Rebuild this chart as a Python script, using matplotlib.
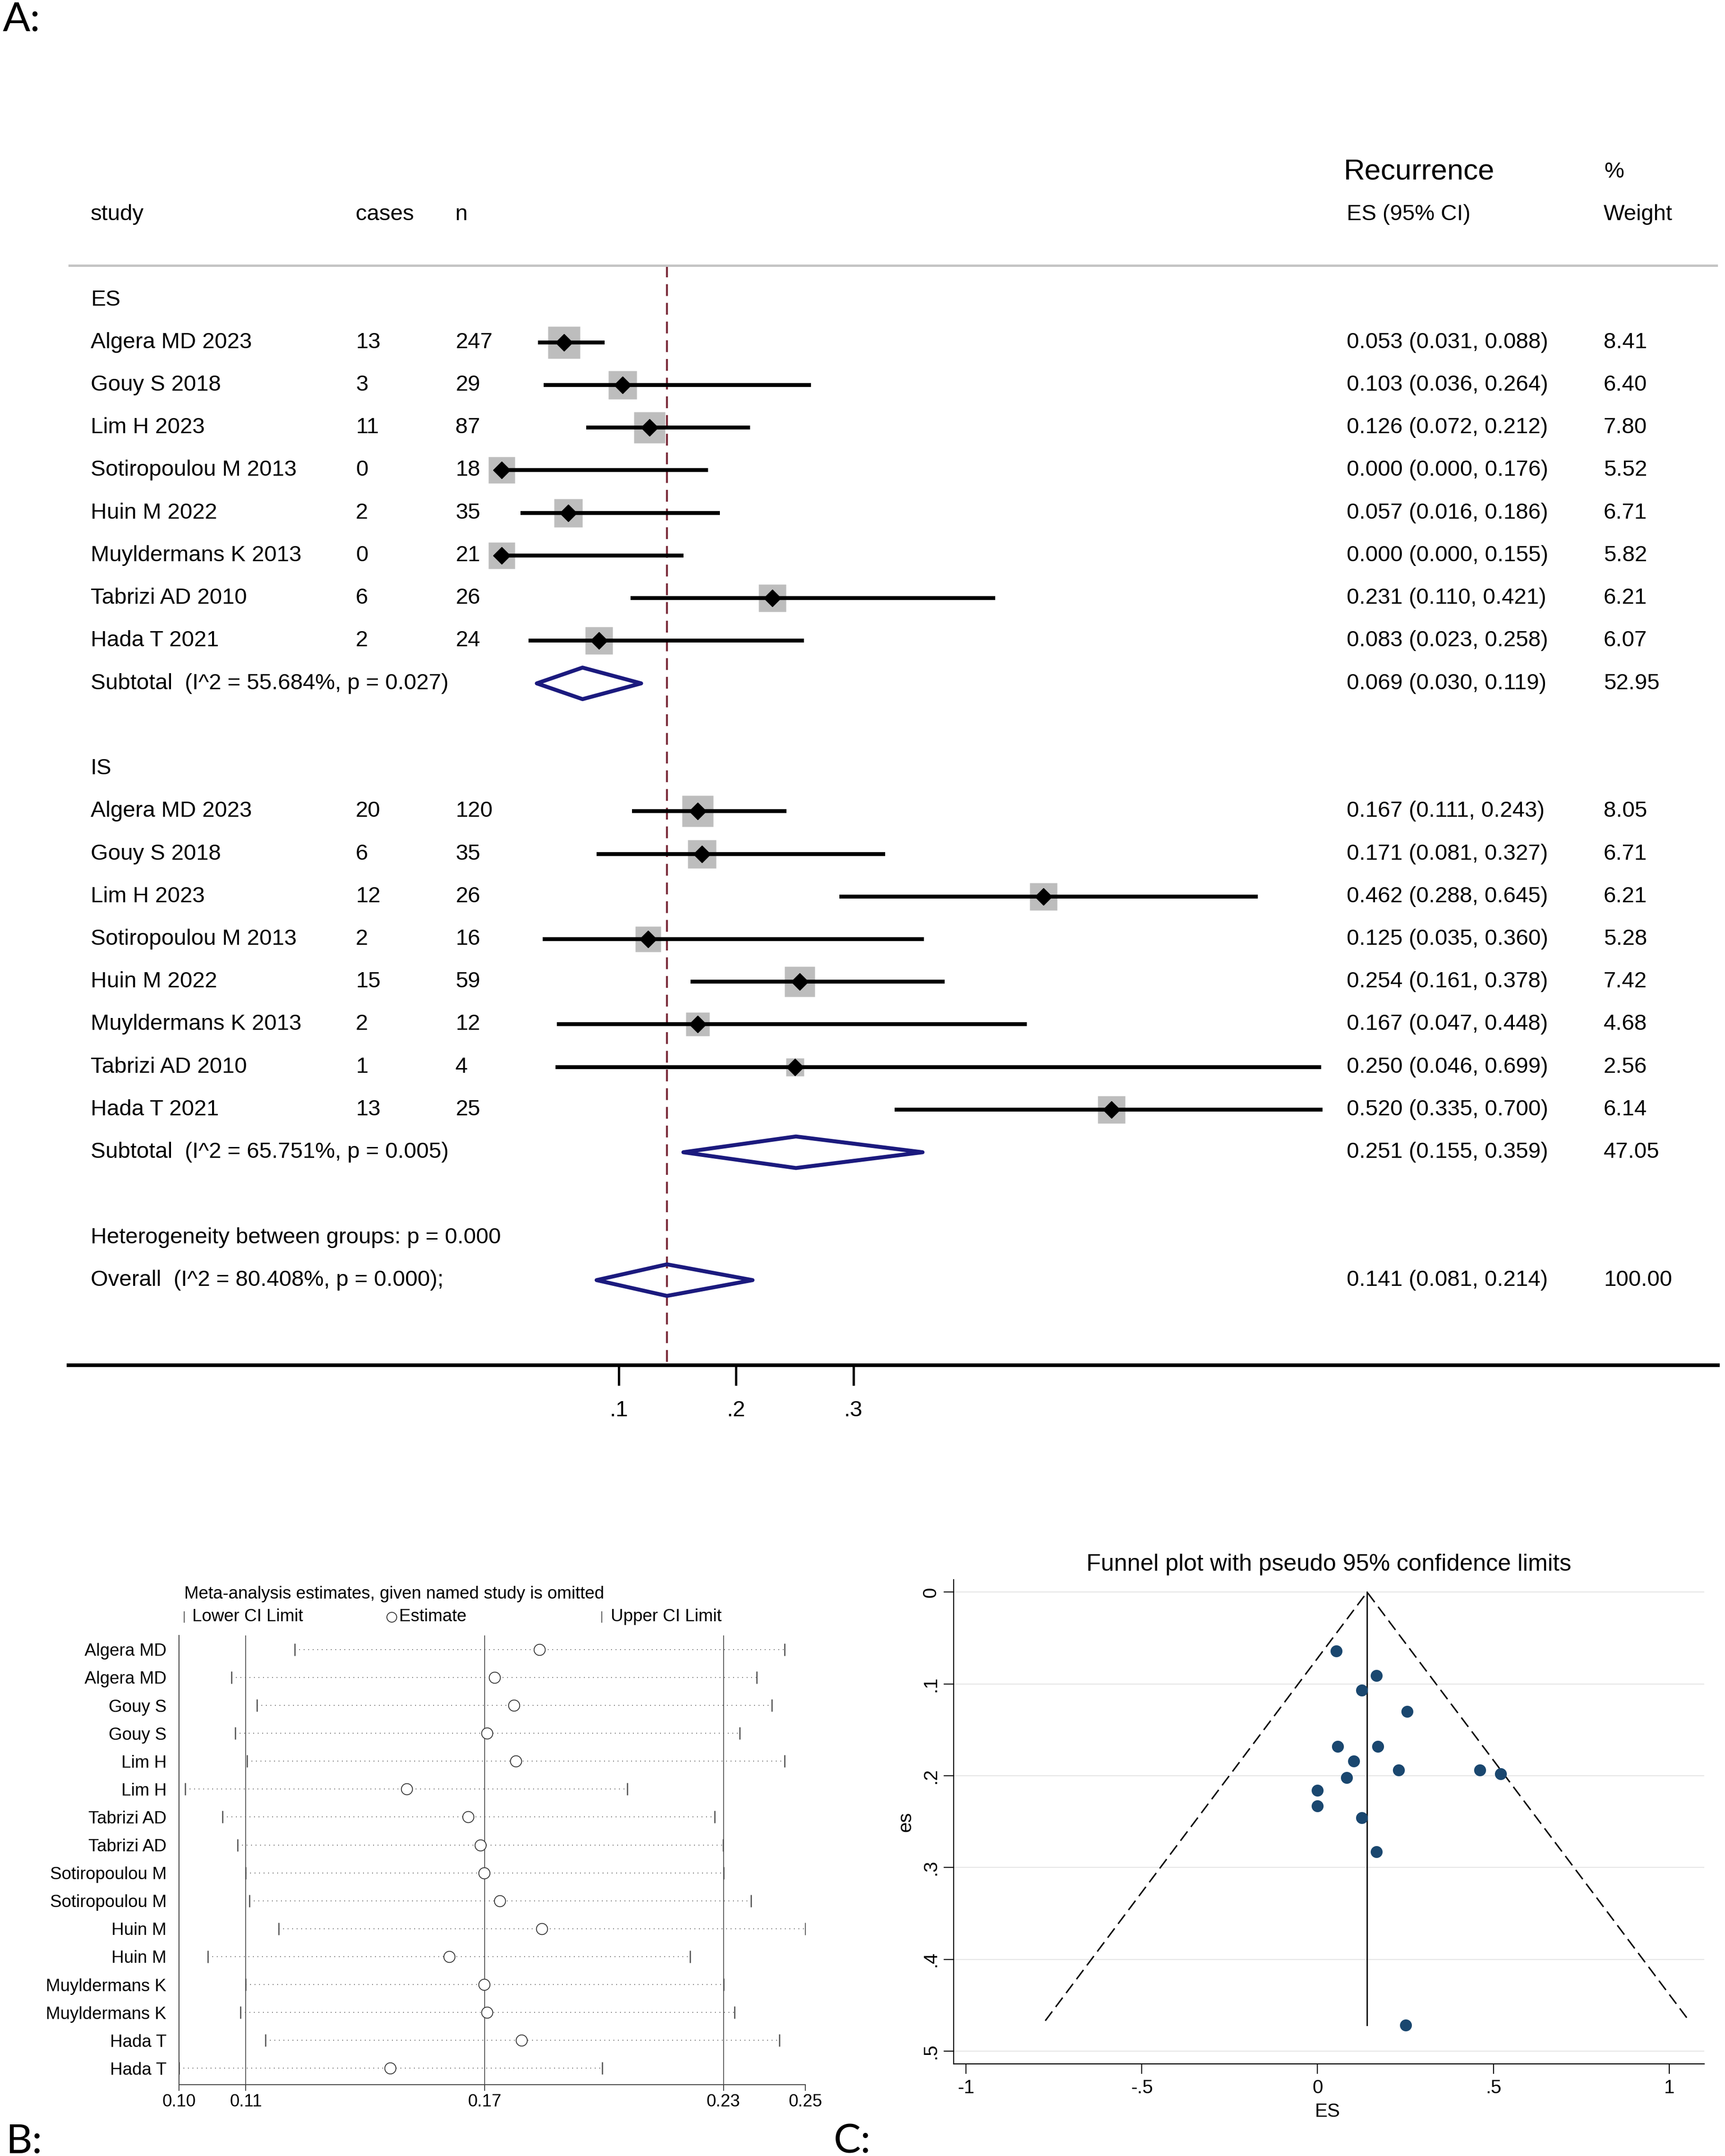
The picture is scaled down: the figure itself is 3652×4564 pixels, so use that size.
import matplotlib
matplotlib.use("Agg")
import matplotlib.pyplot as plt
import matplotlib.transforms as mtransforms
from matplotlib.lines import Line2D
from matplotlib.patches import Polygon
import numpy as np

# ---------------- A: forest plot ----------------
studies = ["Algera MD 2023", "Gouy S 2018", "Lim H 2023", "Sotiropoulou M 2013",
           "Huin M 2022", "Muyldermans K 2013", "Tabrizi AD 2010", "Hada T 2021"]
groups = ["ES", "IS"]

es_cases = [13, 3, 11, 0, 2, 0, 6, 2]
es_n = [247, 29, 87, 18, 35, 21, 26, 24]
es_est = [0.053, 0.103, 0.126, 0.000, 0.057, 0.000, 0.231, 0.083]
es_lo = [0.031, 0.036, 0.072, 0.000, 0.016, 0.000, 0.110, 0.023]
es_hi = [0.088, 0.264, 0.212, 0.176, 0.186, 0.155, 0.421, 0.258]
es_wt = [8.41, 6.40, 7.80, 5.52, 6.71, 5.82, 6.21, 6.07]

is_cases = [20, 6, 12, 2, 15, 2, 1, 13]
is_n = [120, 35, 26, 16, 59, 12, 4, 25]
is_est = [0.167, 0.171, 0.462, 0.125, 0.254, 0.167, 0.250, 0.520]
is_lo = [0.111, 0.081, 0.288, 0.035, 0.161, 0.047, 0.046, 0.335]
is_hi = [0.243, 0.327, 0.645, 0.360, 0.378, 0.448, 0.699, 0.700]
is_wt = [8.05, 6.71, 6.21, 5.28, 7.42, 4.68, 2.56, 6.14]

sub_est = [0.069, 0.251]
sub_lo = [0.030, 0.155]
sub_hi = [0.119, 0.359]
sub_wt = [52.95, 47.05]
sub_i2 = [55.684, 65.751]
sub_p = [0.027, 0.005]

overall_est, overall_lo, overall_hi = 0.141, 0.081, 0.214
overall_i2, overall_p, het_p = 80.408, 0.000, 0.000

forest_ticks = [0.1, 0.2, 0.3]
forest_ticklabels = [".1", ".2", ".3"]

# ---------------- B: leave-one-out ----------------
infl_labels = ["Algera MD", "Algera MD", "Gouy S", "Gouy S", "Lim H", "Lim H",
               "Tabrizi AD", "Tabrizi AD", "Sotiropoulou M", "Sotiropoulou M",
               "Huin M", "Huin M", "Muyldermans K", "Muyldermans K", "Hada T", "Hada T"]
infl_lo = [0.1223, 0.1064, 0.1128, 0.1073, 0.1103, 0.0948, 0.1041, 0.1079,
           0.1100, 0.1109, 0.1182, 0.1004, 0.1100, 0.1086, 0.1149, 0.0932]
infl_est = [0.1838, 0.1725, 0.1774, 0.1706, 0.1778, 0.1504, 0.1659, 0.1689,
            0.1699, 0.1738, 0.1843, 0.1611, 0.1699, 0.1706, 0.1793, 0.1463]
infl_hi = [0.2454, 0.2384, 0.2422, 0.2341, 0.2453, 0.2058, 0.2278, 0.2299,
           0.2300, 0.2369, 0.2506, 0.2216, 0.2300, 0.2328, 0.2440, 0.1996]
infl_ref = [0.11, 0.17, 0.23]
infl_ticks = [0.0932, 0.11, 0.17, 0.23, 0.2506]
infl_ticklabels = ["0.10", "0.11", "0.17", "0.23", "0.25"]

# ---------------- C: funnel plot ----------------
funnel_es = [0.053, 0.167, 0.126, 0.254, 0.057, 0.171, 0.103, 0.231,
             0.462, 0.520, 0.083, 0.000, 0.000, 0.125, 0.167, 0.250]
funnel_se = [0.064, 0.091, 0.107, 0.130, 0.168, 0.168, 0.184, 0.194,
             0.194, 0.198, 0.202, 0.216, 0.233, 0.246, 0.283, 0.472]
funnel_center = 0.141
funnel_limit_se = 0.467
funnel_xticks = [-1, -0.5, 0, 0.5, 1]
funnel_xticklabels = ["-1", "-.5", "0", ".5", "1"]
funnel_yticks = [0, 0.1, 0.2, 0.3, 0.4, 0.5]
funnel_yticklabels = ["0", ".1", ".2", ".3", ".4", ".5"]

plt.rcParams["font.family"] = ["Liberation Sans", "DejaVu Sans"]

W, H, DPI = 3652, 4564, 100
fig = plt.figure(figsize=(W / DPI, H / DPI), dpi=DPI)


def fx(px):
    return px / 1255.0


def fy(py):
    return 1.0 - py / 1568.0


def rect(x0, y0, x1, y1):
    return [fx(x0), fy(y1), fx(x1) - fx(x0), fy(y0) - fy(y1)]


NAVY = "#1b1a7e"
GRAY_BOX = "#bdbdbd"
REF_RED = "#7b2d3b"

# ---- panel A ----
ROW0, ROWH = 218.0, 31.0
ax = fig.add_axes(rect(50, ROW0 - 4 * ROWH, 1250, ROW0 + 25 * ROWH))
ax.set_xlim(-0.3692, 1.0375)
ax.set_ylim(25, -4)
for s in ("top", "left", "right"):
    ax.spines[s].set_visible(False)
ax.spines["bottom"].set_linewidth(5.5)
ax.set_yticks([])
ax.set_xticks(forest_ticks)
ax.set_xticklabels(forest_ticklabels, fontsize=34)
ax.tick_params(axis="x", length=31, width=3.5, pad=22)

tr = mtransforms.blended_transform_factory(ax.transAxes, ax.transData)
FS = 34
C_STUDY, C_CASES, C_N, C_CI, C_WT = 0.0133, 0.174, 0.2345, 0.7747, 0.9306


def put(x, y, s, size=FS):
    ax.text(x, y, s, transform=tr, fontsize=size, va="center", ha="left")


put(0.7729, -3, "Recurrence", 44.5)
put(0.931, -3, "%")
put(C_STUDY, -2, "study")
put(C_CASES, -2, "cases")
put(C_N, -2, "n")
put(C_CI, -2, "ES (95% CI)")
put(C_WT, -2, "Weight")

ax.axhline(-0.8, color="#c4c4c4", lw=3.6)
ax.plot([overall_est, overall_est], [-0.8, 25], color=REF_RED, lw=3,
        ls=(0, (6, 3.5)), zorder=1)


def diamond(est, lo, hi, row, h=0.37):
    ax.add_patch(Polygon([(lo, row), (est, row - h), (hi, row), (est, row + h)],
                         closed=True, fill=False, edgecolor=NAVY, lw=6,
                         joinstyle="round", zorder=4))


def ci_text(e, l, h):
    return f"{e:.3f} ({l:.3f}, {h:.3f})"


group_data = [
    (es_cases, es_n, es_est, es_lo, es_hi, es_wt),
    (is_cases, is_n, is_est, is_lo, is_hi, is_wt),
]
for g, (name, data) in enumerate(zip(groups, group_data)):
    cases, n, est, lo, hi, wt = data
    head = g * 11
    put(C_STUDY, head, name)
    for i in range(len(studies)):
        r = head + 1 + i
        put(C_STUDY, r, studies[i])
        put(C_CASES, r, str(cases[i]))
        put(C_N, r, str(n[i]))
        put(C_CI, r, ci_text(est[i], lo[i], hi[i]))
        put(C_WT, r, f"{wt[i]:.2f}")
        ax.plot(est[i], r, marker="s", ms=16.9 * np.sqrt(wt[i]), color=GRAY_BOX,
                mec="none", ls="none", zorder=2)
        ax.plot([lo[i], hi[i]], [r, r], color="black", lw=6,
                solid_capstyle="butt", zorder=3)
        ax.plot(est[i], r, marker="D", ms=18, color="black", ls="none", zorder=5)
    rs = head + 1 + len(studies)
    put(C_STUDY, rs, f"Subtotal  (I^2 = {sub_i2[g]:.3f}%, p = {sub_p[g]:.3f})")
    put(C_CI, rs, ci_text(sub_est[g], sub_lo[g], sub_hi[g]))
    put(C_WT, rs, f"{sub_wt[g]:.2f}")
    diamond(sub_est[g], sub_lo[g], sub_hi[g], rs)

put(C_STUDY, 22, f"Heterogeneity between groups: p = {het_p:.3f}")
put(C_STUDY, 23, f"Overall  (I^2 = {overall_i2:.3f}%, p = {overall_p:.3f});")
put(C_CI, 23, ci_text(overall_est, overall_lo, overall_hi))
put(C_WT, 23, "100.00")
diamond(overall_est, overall_lo, overall_hi, 23)

# ---- panel B ----
FSB = 26.5
axb = fig.add_axes(rect(130.2, 1189.5, 586, 1516))
rows = np.arange(1, len(infl_labels) + 1)
axb.set_xlim(infl_ticks[0], infl_ticks[-1])
axb.set_ylim(16.58, 0.5)
for v in infl_ref:
    axb.axvline(v, color="#555555", lw=1.3, zorder=1)
for lo, est, hi, r in zip(infl_lo, infl_est, infl_hi, rows):
    axb.plot([lo, hi], [r, r], color="#444444", lw=1.3, ls=(0, (0.8, 4.5)), zorder=2)
    axb.plot([lo, hi], [r, r], ls="none", marker="|", ms=19, mew=1.9,
             color="#555555", zorder=3)
    axb.plot(est, r, marker="o", ms=17, mfc="white", mec="#333333", mew=1.3,
             ls="none", zorder=4)
for s in ("top", "right"):
    axb.spines[s].set_visible(False)
for s in ("left", "bottom"):
    axb.spines[s].set_linewidth(1.4)
    axb.spines[s].set_color("#444444")
axb.set_yticks(rows)
axb.set_yticklabels(infl_labels, fontsize=FSB)
axb.tick_params(axis="y", length=0, pad=19)
axb.set_xticks(infl_ticks)
axb.set_xticklabels(infl_ticklabels, fontsize=FSB)
axb.tick_params(axis="x", length=9, width=1.4, pad=5, color="#444444")

fig.text(fx(133.9), fy(1159.5), "Meta-analysis estimates, given named study is omitted",
         fontsize=FSB, va="center", ha="left")
LEG_Y = 1176
fig.add_artist(Line2D([fx(134)], [fy(LEG_Y)], marker="|", ms=17, mew=1.6,
                      color="#666666", transform=fig.transFigure))
fig.text(fx(139.9), fy(LEG_Y), "Lower CI Limit", fontsize=FSB, va="center", ha="left")
fig.add_artist(Line2D([fx(284.8)], [fy(LEG_Y)], marker="o", ms=15, mfc="white",
                      mec="#333333", mew=1.3, transform=fig.transFigure))
fig.text(fx(290.5), fy(LEG_Y), "Estimate", fontsize=FSB, va="center", ha="left")
fig.add_artist(Line2D([fx(437.7)], [fy(LEG_Y)], marker="|", ms=17, mew=1.6,
                      color="#666666", transform=fig.transFigure))
fig.text(fx(444.4), fy(LEG_Y), "Upper CI Limit", fontsize=FSB, va="center", ha="left")

# ---- panel C ----
FSC = 29
axc = fig.add_axes(rect(693.8, 1149, 1240, 1501))
axc.set_xlim(-1.035, 1.1)
axc.set_ylim(0.514, -0.0134)
for v in funnel_yticks:
    axc.axhline(v, color="#e6e6e6", lw=1.5, zorder=0)
axc.plot([funnel_center - 1.96 * funnel_limit_se, funnel_center,
          funnel_center + 1.96 * funnel_limit_se],
         [funnel_limit_se, 0, funnel_limit_se], color="black", lw=2.2,
         ls=(0, (8, 4)), zorder=2)
axc.plot([funnel_center, funnel_center], [0, max(funnel_se)], color="black",
         lw=2, zorder=2)
axc.scatter(funnel_es, funnel_se, s=330, color="#1a476f", zorder=3, linewidths=0)
for s in ("top", "right"):
    axc.spines[s].set_visible(False)
for s in ("left", "bottom"):
    axc.spines[s].set_linewidth(1.6)
axc.set_xticks(funnel_xticks)
axc.set_xticklabels(funnel_xticklabels, fontsize=FSC)
axc.set_yticks(funnel_yticks)
axc.set_yticklabels(funnel_yticklabels, fontsize=FSC, rotation=90, va="center")
axc.tick_params(axis="both", length=15, width=1.6)
axc.tick_params(axis="x", pad=8)
axc.tick_params(axis="y", pad=6)
axc.set_title("Funnel plot with pseudo 95% confidence limits", fontsize=36, pad=14)
axc.text((966 - 693.8) / 546.2, (1501 - 1535.6) / 352.0, "ES", transform=axc.transAxes,
         fontsize=FSC, ha="center", va="center")
axc.text((659 - 693.8) / 546.2, 0.5, "es", transform=axc.transAxes,
         fontsize=FSC, ha="center", va="center", rotation=90)

# ---- panel letters ----
LET = dict(fontsize=62, family=["Lato", "DejaVu Sans"])
fig.text(6 / W, 1 - 66 / H, "A:", va="baseline", ha="left", **LET)
fig.text(12 / W, 7 / H, "B:", va="baseline", ha="left", **LET)
fig.text(1765 / W, 7 / H, "C:", va="baseline", ha="left", **LET)

fig.savefig("out.png", dpi=DPI, facecolor="white")
